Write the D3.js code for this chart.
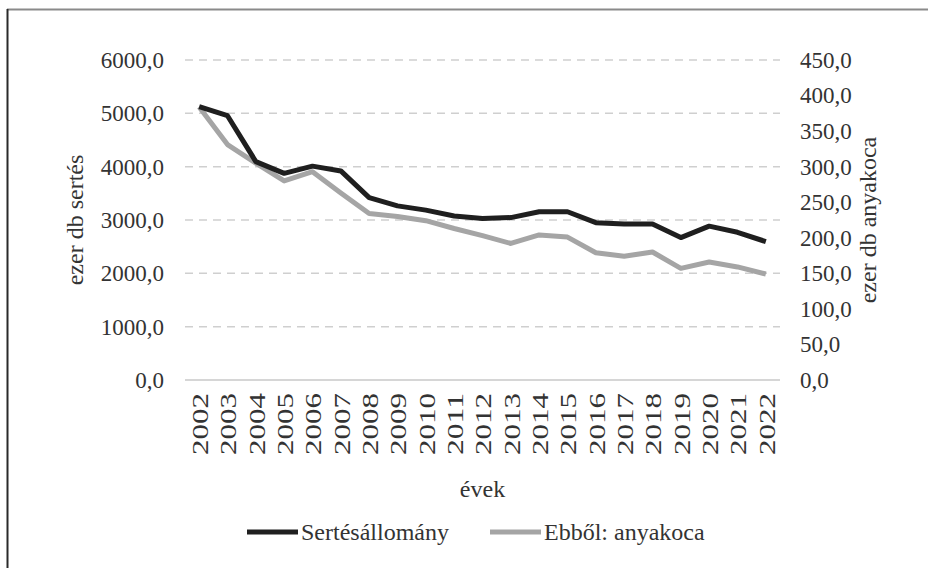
<!DOCTYPE html>
<html>
<head>
<meta charset="utf-8">
<title>Sertésállomány</title>
<script src="https://cdn.jsdelivr.net/npm/d3@7"></script>
<style>
  body { margin: 0; background: #fff; }
</style>
</head>
<body>
<div id="chart"></div>
<script>
// years on the x axis
var years = ["2002","2003","2004","2005","2006","2007","2008","2009","2010","2011","2012",
             "2013","2014","2015","2016","2017","2018","2019","2020","2021","2022"];
// ezer db sertés (left axis)
var sertes = [5125, 4955, 4095, 3875, 4010, 3920, 3420, 3265, 3185, 3075, 3030,
              3045, 3155, 3155, 2950, 2925, 2925, 2670, 2885, 2770, 2595];
// ezer db anyakoca (right axis)
var koca = [384, 331, 305, 280, 293, 263, 234, 230, 224, 213, 203,
            192, 204, 201, 179, 174, 180, 157, 166, 159, 149];
var leftTicks = [0, 1000, 2000, 3000, 4000, 5000, 6000];
var rightTicks = [0, 50, 100, 150, 200, 250, 300, 350, 400, 450];

var W = 928, H = 568;
var margin = { top: 60, right: 148, bottom: 188, left: 185 };
var serif = "'Liberation Serif', 'Times New Roman', serif";

var svg = d3.select("#chart").append("svg")
    .attr("width", W)
    .attr("height", H);

// frame
svg.append("line").attr("x1", 7).attr("x2", W).attr("y1", 9.5).attr("y2", 9.5)
    .attr("stroke", "#8a8a8a").attr("stroke-width", 2);
svg.append("line").attr("x1", 7.5).attr("x2", 7.5).attr("y1", 9).attr("y2", H)
    .attr("stroke", "#2a2a2a").attr("stroke-width", 2);

var x = d3.scalePoint()
    .domain(years)
    .range([margin.left, W - margin.right])
    .padding(0.5);
var yL = d3.scaleLinear().domain([0, 6000]).range([H - margin.bottom, margin.top]);
var yR = d3.scaleLinear().domain([0, 450]).range([H - margin.bottom, margin.top]);

var fmt = function (d) { return d3.format(".1f")(d).replace(".", ","); };

// gridlines
svg.append("g").selectAll("line")
    .data(leftTicks.filter(function (d) { return d > 0; }))
    .join("line")
    .attr("x1", margin.left).attr("x2", W - margin.right)
    .attr("y1", function (d) { return yL(d); })
    .attr("y2", function (d) { return yL(d); })
    .attr("stroke", "#cfcfcf")
    .attr("stroke-width", 1.5)
    .attr("stroke-dasharray", "8,6");

// baseline
svg.append("line")
    .attr("x1", margin.left).attr("x2", W - margin.right)
    .attr("y1", yL(0)).attr("y2", yL(0))
    .attr("stroke", "#c8c8c8").attr("stroke-width", 1.5);

// left axis
var gL = svg.append("g")
    .attr("transform", "translate(" + (margin.left - 21) + ",0)")
    .call(d3.axisLeft(yL).tickValues(leftTicks).tickFormat(fmt).tickSize(0));
gL.select(".domain").remove();
gL.attr("font-family", null).attr("font-size", null);
gL.selectAll("text").style("font-family", serif).style("font-size", "23px")
    .attr("fill", "#333").attr("x", 0);

// right axis
var gR = svg.append("g")
    .attr("transform", "translate(" + (W - margin.right + 20) + ",0)")
    .call(d3.axisRight(yR).tickValues(rightTicks).tickFormat(fmt).tickSize(0));
gR.select(".domain").remove();
gR.attr("font-family", null).attr("font-size", null);
gR.selectAll("text").style("font-family", serif).style("font-size", "23px")
    .attr("fill", "#333").attr("x", 0);

// x axis labels (rotated)
var gX = svg.append("g")
    .attr("transform", "translate(0," + (yL(0) + 13) + ")")
    .call(d3.axisBottom(x).tickSize(0));
gX.select(".domain").remove();
gX.attr("font-family", null).attr("font-size", null);
gX.selectAll("text")
    .style("font-family", serif)
    .style("font-size", "24px")
    .attr("fill", "#333")
    .attr("transform", "rotate(-90)")
    .attr("text-anchor", "end")
    .attr("x", 0).attr("y", 0)
    .attr("dy", "0.35em")
    .attr("textLength", 62)
    .attr("lengthAdjust", "spacingAndGlyphs");

// axis titles
svg.append("text")
    .attr("transform", "translate(83," + ((yL(0) + yL(6000)) / 2) + ") rotate(-90)")
    .attr("text-anchor", "middle")
    .style("font-family", serif).style("font-size", "24px")
    .attr("fill", "#333")
    .text("ezer db sertés");
svg.append("text")
    .attr("transform", "translate(876," + ((yL(0) + yL(6000)) / 2) + ") rotate(-90)")
    .attr("text-anchor", "middle")
    .style("font-family", serif).style("font-size", "24px")
    .attr("fill", "#333")
    .text("ezer db anyakoca");
svg.append("text")
    .attr("x", (margin.left + W - margin.right) / 2)
    .attr("y", 497)
    .attr("text-anchor", "middle")
    .style("font-family", serif).style("font-size", "24px")
    .attr("fill", "#333")
    .text("évek");

// lines
var lineL = d3.line()
    .x(function (d, i) { return x(years[i]); })
    .y(function (d) { return yL(d); });
var lineR = d3.line()
    .x(function (d, i) { return x(years[i]); })
    .y(function (d) { return yR(d); });

svg.append("path").datum(koca)
    .attr("d", lineR)
    .attr("fill", "none")
    .attr("stroke", "#a5a5a5")
    .attr("stroke-width", 5)
    .attr("stroke-linejoin", "round");
svg.append("path").datum(sertes)
    .attr("d", lineL)
    .attr("fill", "none")
    .attr("stroke", "#1f1f1f")
    .attr("stroke-width", 5)
    .attr("stroke-linejoin", "round");

// legend
var legend = [
    { name: "Sertésállomány", color: "#1f1f1f", x: 247 },
    { name: "Ebből: anyakoca", color: "#a5a5a5", x: 490 }
];
var lg = svg.append("g").selectAll("g").data(legend).join("g")
    .attr("transform", function (d) { return "translate(" + d.x + ",532)"; });
lg.append("line")
    .attr("x1", 0).attr("x2", 51).attr("y1", 0).attr("y2", 0)
    .attr("stroke", function (d) { return d.color; })
    .attr("stroke-width", 5);
lg.append("text")
    .attr("x", 54).attr("y", 8)
    .style("font-family", serif).style("font-size", "24px")
    .attr("fill", "#333")
    .text(function (d) { return d.name; });
</script>
</body>
</html>
